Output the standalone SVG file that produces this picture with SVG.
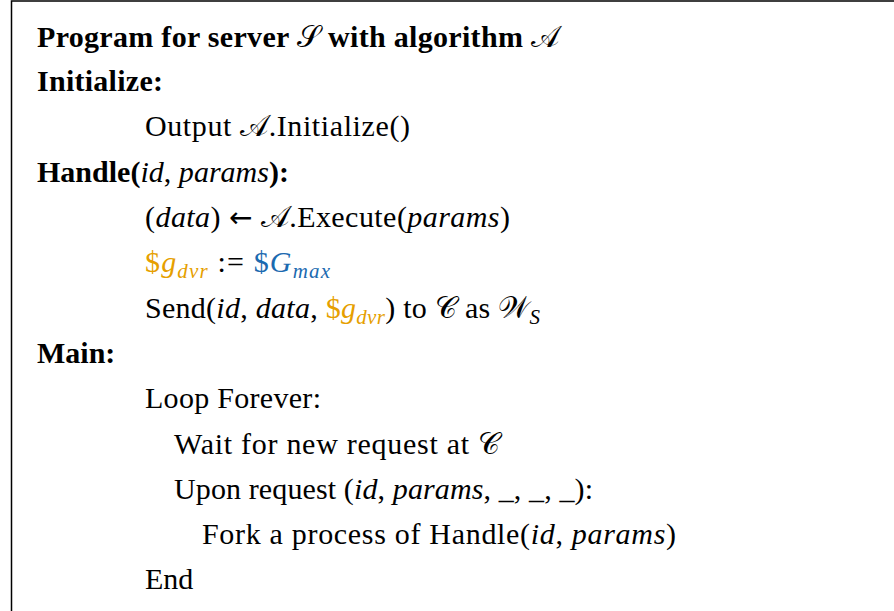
<svg xmlns="http://www.w3.org/2000/svg" width="894" height="611" viewBox="0 0 894 611">
<style>
text{font-family:"Liberation Serif","DejaVu Serif",serif;font-size:30px;fill:#000}
.b{font-weight:bold}
.i{font-style:italic}
.cal{font-family:"DejaVu Sans","Noto Sans",serif;font-style:normal;font-weight:normal}
.arr{font-family:"DejaVu Sans",sans-serif;font-size:28px}
.sub{font-size:21px;font-style:italic}
.or{fill:#E69F00}
.bl{fill:#1B6AB0}
.frame{stroke:#000;stroke-width:1.5;fill:none}
</style>
<rect x="0" y="0" width="894" height="611" fill="#fff"/>
<g id="frame"><path class="frame" d="M11.5,611 V1 H894"/></g>
<g id="connectors"></g>
<g id="l1"><text x="37" y="47" textLength="522" lengthAdjust="spacing"><tspan class="b">Program for server </tspan><tspan class="cal">𝒮</tspan><tspan class="b"> with algorithm </tspan><tspan class="cal">𝒜</tspan></text></g>
<g id="l2"><text x="37" y="91" class="b" textLength="126" lengthAdjust="spacing">Initialize:</text></g>
<g id="l3"><text x="145" y="136" textLength="265" lengthAdjust="spacing">Output <tspan class="cal">𝒜</tspan>.Initialize()</text></g>
<g id="l4"><text x="37" y="182" textLength="252" lengthAdjust="spacing"><tspan class="b">Handle(</tspan><tspan class="i">id</tspan>, <tspan class="i">params</tspan><tspan class="b">):</tspan></text></g>
<g id="l5"><text x="145" y="227" textLength="365" lengthAdjust="spacing">(<tspan class="i">data</tspan>) <tspan class="arr">←</tspan> <tspan class="cal">𝒜</tspan>.Execute(<tspan class="i">params</tspan>)</text></g>
<g id="l6"><text x="145" y="272" textLength="185" lengthAdjust="spacing"><tspan class="or">$</tspan><tspan class="or i">g</tspan><tspan class="or sub" dy="6">dvr</tspan><tspan dy="-6"> := </tspan><tspan class="bl">$</tspan><tspan class="bl i">G</tspan><tspan class="bl sub" dy="6">max</tspan></text></g>
<g id="l7"><text x="145" y="318" textLength="395" lengthAdjust="spacing">Send(<tspan class="i">id</tspan>, <tspan class="i">data</tspan>, <tspan class="or">$</tspan><tspan class="or i">g</tspan><tspan class="or sub" dy="6">dvr</tspan><tspan dy="-6">) to </tspan><tspan class="cal">𝒞</tspan> as <tspan class="cal">𝒲</tspan><tspan class="sub" dy="6">S</tspan></text></g>
<g id="l8"><text x="37" y="363" class="b">Main:</text></g>
<g id="l9"><text x="145" y="408" textLength="176" lengthAdjust="spacing">Loop Forever:</text></g>
<g id="l10"><text x="174" y="454" textLength="326" lengthAdjust="spacing">Wait for new request at <tspan class="cal">𝒞</tspan></text></g>
<g id="l11"><text x="174" y="499" textLength="419" lengthAdjust="spacing">Upon request (<tspan class="i">id</tspan>, <tspan class="i">params</tspan>, _, _, _):</text></g>
<g id="l12"><text x="202" y="544" textLength="474" lengthAdjust="spacing">Fork a process of Handle(<tspan class="i">id</tspan>, <tspan class="i">params</tspan>)</text></g>
<g id="l13"><text x="145" y="589">End</text></g>
</svg>
